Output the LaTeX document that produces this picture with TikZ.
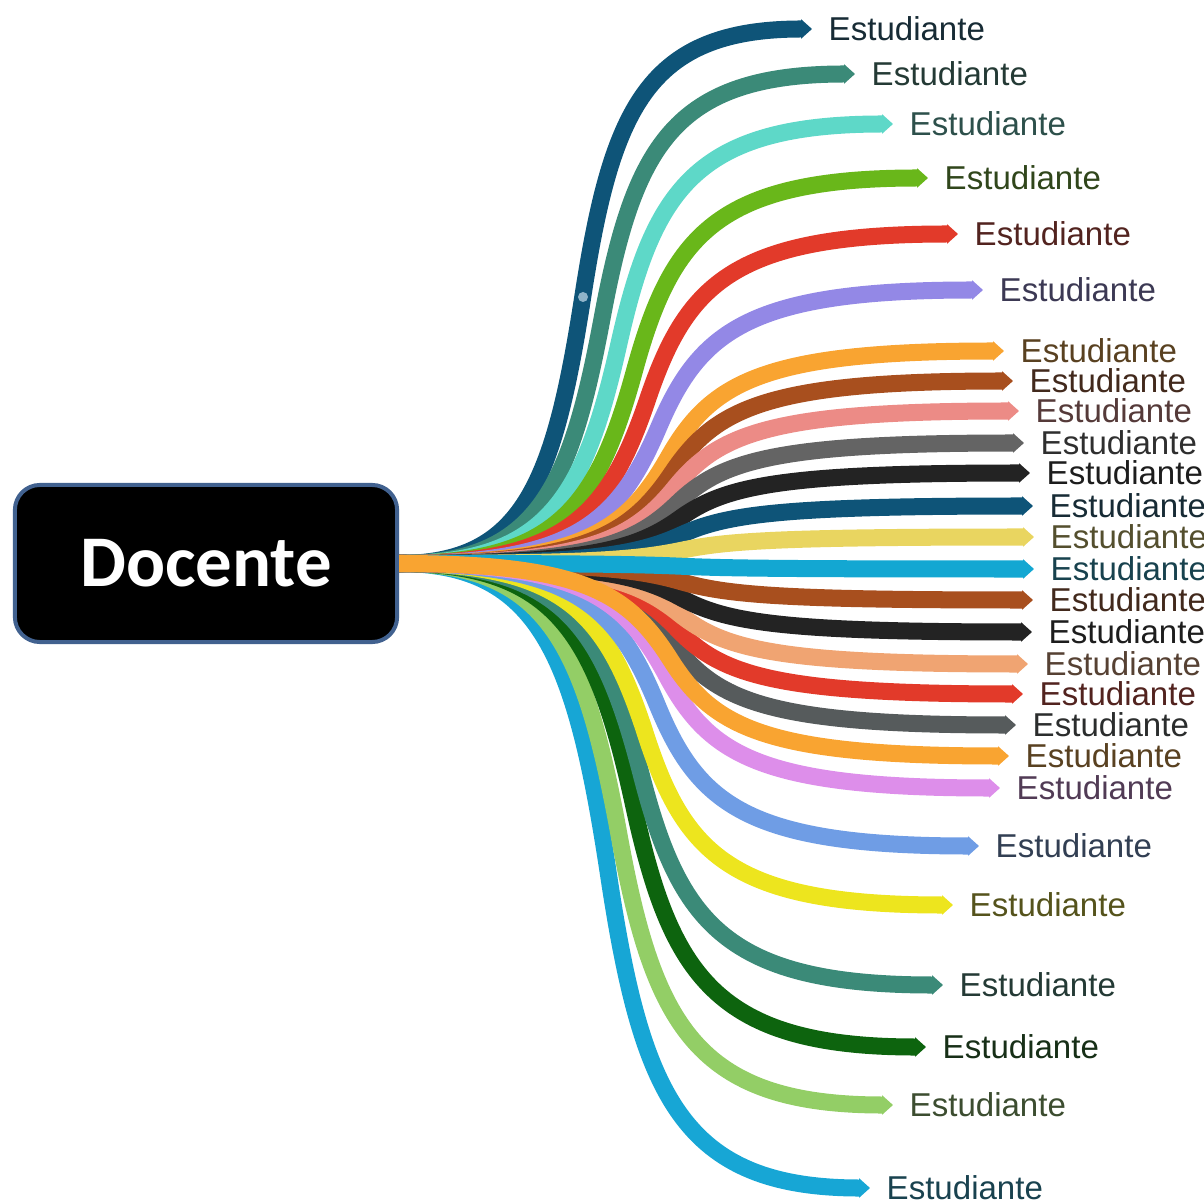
\documentclass[tikz,border=0pt]{standalone}
\usepackage{fontspec}
\usetikzlibrary{arrows.meta,calc}
\newfontfamily\docfont{Carlito}
\newfontfamily\leaffont{Liberation Sans}
\definecolor{docborder}{HTML}{41618F}
\definecolor{dotcol}{HTML}{8FB4C9}
\definecolor{petrol}{HTML}{0E5478}
\definecolor{seagreen}{HTML}{3B8A78}
\definecolor{aqua}{HTML}{5ED8C8}
\definecolor{grass}{HTML}{69B71A}
\definecolor{tomato}{HTML}{E23A2A}
\definecolor{lavender}{HTML}{9388E6}
\definecolor{amber}{HTML}{F9A431}
\definecolor{rust}{HTML}{A84F1E}
\definecolor{salmon}{HTML}{EC8B86}
\definecolor{slate}{HTML}{646464}
\definecolor{ink}{HTML}{232323}
\definecolor{sand}{HTML}{E9D560}
\definecolor{skyblue}{HTML}{13A7D2}
\definecolor{peach}{HTML}{F0A472}
\definecolor{graphite}{HTML}{565B5C}
\definecolor{orchid}{HTML}{DD8EEA}
\definecolor{cornflower}{HTML}{6F9DE5}
\definecolor{lemon}{HTML}{EDE51E}
\definecolor{forest}{HTML}{0D640E}
\definecolor{lime}{HTML}{93CE66}
\definecolor{cyanblue}{HTML}{17A6D5}
\tikzstyle{docbox} = [draw=docborder, fill=black, rectangle, rounded corners=0.25cm, line width=0.04cm, minimum width=3.82cm, minimum height=1.57cm, text=white, font=\docfont\bfseries\fontsize{20.7}{24}\selectfont]
\tikzstyle{branch} = [->, line width=0.17cm]
\tikzstyle{leaf} = [anchor=west, inner xsep=0.16cm, inner ysep=0pt, font=\leaffont\fontsize{9.4}{11}\selectfont]
\begin{document}
\begin{tikzpicture}[x=0.01cm, y=-0.01cm, >={Triangle[length=0.11cm, width=0.19cm]}]
	\useasboundingbox (0,0) rectangle (1203,1204);
	\node [docbox] (doc) at (206,563.5) {Docente};

	\foreach \i/\tx/\ty/\c in {1/812/29/petrol, 2/855/74/seagreen, 3/893/124/aqua, 4/928/178/grass,
		5/958/234/tomato, 6/983/290/lavender, 7/1004/351/amber, 8/1013/381/rust, 9/1019/411/salmon,
		10/1024/443/slate, 11/1030/473/ink, 12/1033/506/petrol, 13/1034/537/sand,
		27/870/1188/cyanblue, 26/893/1105/lime, 25/926/1047/forest, 24/943/985/seagreen,
		23/953/905/lemon, 22/979/846/cornflower, 21/1000/788/orchid, 19/1016/725/graphite,
		18/1023/694/tomato, 17/1028/664/peach, 16/1032/632/ink, 15/1033/600/rust,
		14/1034/569/skyblue, 20/1009/756/amber} {
		\node [leaf, text=\c!40!black!70!darkgray] (e\i) at (\tx,\ty) {Estudiante};
		\draw [branch, draw=\c] let \p1=(doc.east), \p2=(e\i.west), \n1={\x2-\x1}, \n2={\y2-\y1} in
			(\p1) .. controls ({\x1+0.3*\n1},\y1) and ({\x1+0.375*\n1},{\y1+0.15*\n2}) .. ({\x1+0.445*\n1},{\y1+0.5*\n2})
			.. controls ({\x1+0.515*\n1},{\y1+0.85*\n2}) and ({\x1+0.6*\n1},\y2) .. (\p2);
	}
	\fill [dotcol] (583,297) circle [radius=0.05cm];
\end{tikzpicture}
\end{document}
